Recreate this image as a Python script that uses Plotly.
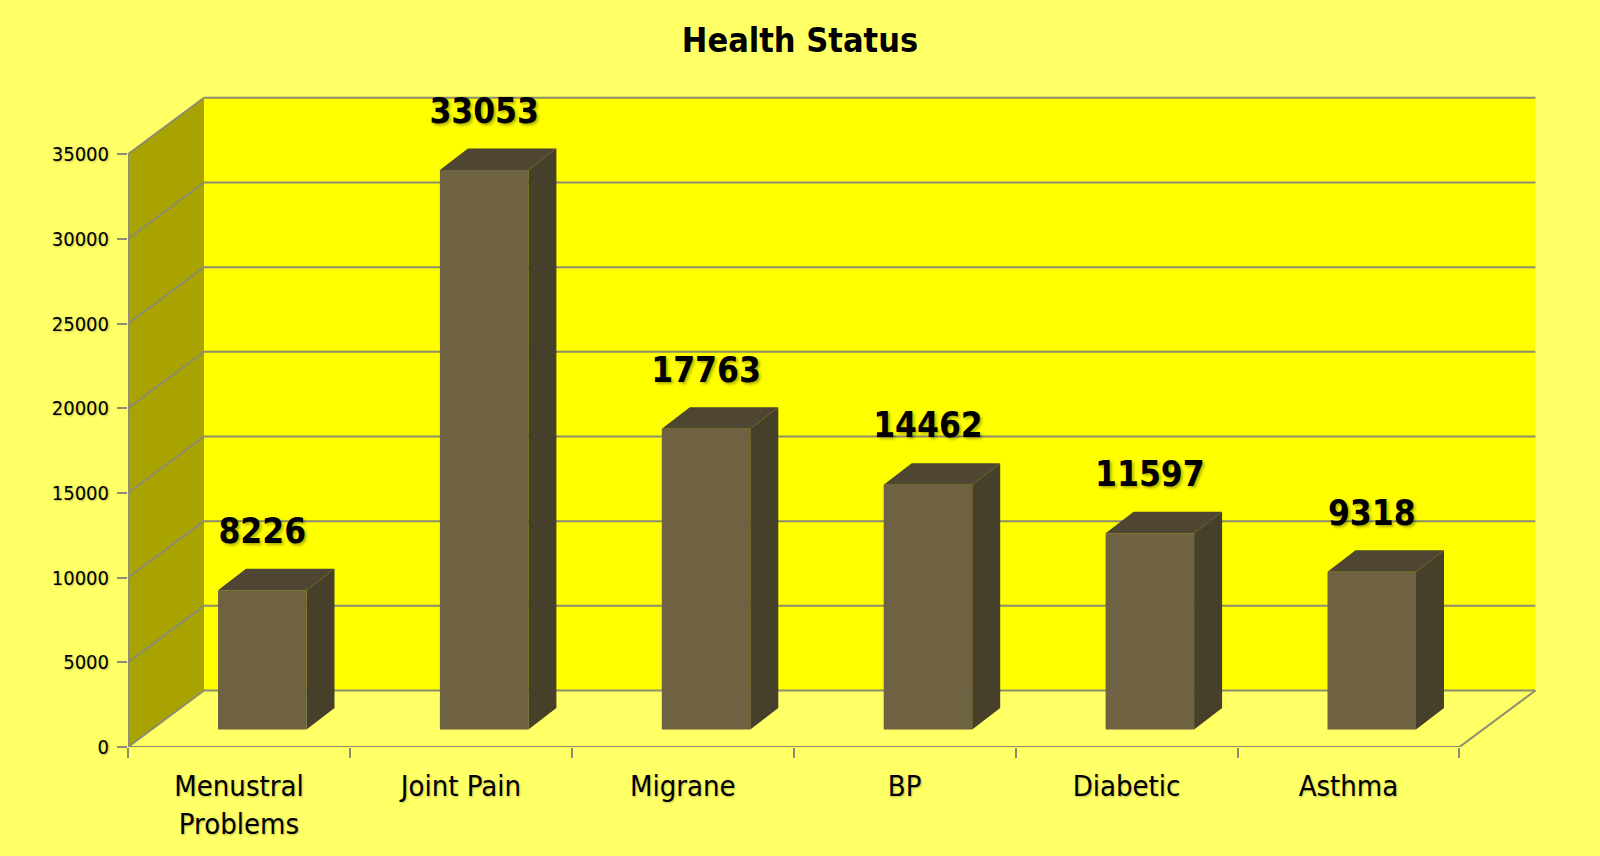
import plotly.graph_objects as go

# Chart data
categories = ["Menustral<br>Problems", "Joint Pain", "Migrane", "BP", "Diabetic", "Asthma"]
cases = [8226, 33053, 17763, 14462, 11597, 9318]
y_ticks = [0, 5000, 10000, 15000, 20000, 25000, 30000, 35000]

# Page and plot-area geometry (pixels)
W, H = 1600, 856
ML, MR, MT, MB = 128, 60, 70, 109
PX_PER_CAT = 221.9
PX_PER_UNIT = 84.67 / 5000
X_MAX = (W - ML - MR) / PX_PER_CAT
Y_MAX = (H - MT - MB) / PX_PER_UNIT


def dx(px):
    return px / PX_PER_CAT


def dy(px):
    return px / PX_PER_UNIT


# Fake 3D: wall depth, bar plane and bar depth
DX, DY = dx(76), dy(56.5)
BX, BY = dx(23.3), dy(17.4)
SX, SY = dx(28), dy(21.5)
BAR_W = dx(88.5)
LABEL_LIFT = dy(56)

n = len(categories)
top_val = y_ticks[-1]

PAPER = "#ffff66"
BACK = "#ffff00"
SIDE_WALL = "#a8a300"
GRID = "#8c8c6e"
FRONT = "#6e6242"
SIDE = "#463f2a"
TOP = "#4e4632"
FONT = "DejaVu Sans Condensed, DejaVu Sans, sans-serif"

shapes = []
# back wall
shapes.append(dict(type="rect", xref="x", yref="y", x0=DX, x1=n + DX, y0=DY, y1=top_val + DY,
                   fillcolor=BACK, line_width=0, layer="below"))
# left wall
shapes.append(dict(type="path", xref="x", yref="y",
                   path=f"M 0,0 L 0,{top_val} L {DX},{top_val + DY} L {DX},{DY} Z",
                   fillcolor=SIDE_WALL, line_width=0, layer="below"))
# gridlines on back wall and left wall
for v in y_ticks:
    shapes.append(dict(type="line", xref="x", yref="y", x0=DX, x1=n + DX, y0=v + DY, y1=v + DY,
                       line=dict(color=GRID, width=2), layer="below"))
    shapes.append(dict(type="line", xref="x", yref="y", x0=0, x1=DX, y0=v, y1=v + DY,
                       line=dict(color=GRID, width=2), layer="below"))
# floor right edge, front axis lines
shapes.append(dict(type="line", xref="x", yref="y", x0=n, x1=n + DX, y0=0, y1=DY,
                   line=dict(color=GRID, width=2), layer="below"))
shapes.append(dict(type="line", xref="x", yref="y", x0=0, x1=n, y0=0, y1=0,
                   line=dict(color=GRID, width=2), layer="below"))
shapes.append(dict(type="line", xref="x", yref="y", x0=0, x1=0, y0=0, y1=top_val,
                   line=dict(color=GRID, width=2), layer="below"))

centers = [i + 0.5 + BX for i in range(n)]

fig = go.Figure()

# front faces
fig.add_trace(go.Bar(x=centers, y=cases, base=BY, width=BAR_W,
                     marker=dict(color=FRONT, line_width=0), hoverinfo="skip"))

# top and side faces
top_x, top_y, side_x, side_y = [], [], [], []
for c, v in zip(centers, cases):
    x0, x1 = c - BAR_W / 2, c + BAR_W / 2
    t = BY + v
    top_x += [x0, x1, x1 + SX, x0 + SX, x0, None]
    top_y += [t, t, t + SY, t + SY, t, None]
    side_x += [x1, x1, x1 + SX, x1 + SX, x1, None]
    side_y += [BY, t, t + SY, BY + SY, BY, None]

fig.add_trace(go.Scatter(x=top_x, y=top_y, fill="toself", fillcolor=TOP, mode="lines",
                         line=dict(width=0, color=TOP), hoverinfo="skip"))
fig.add_trace(go.Scatter(x=side_x, y=side_y, fill="toself", fillcolor=SIDE, mode="lines",
                         line=dict(width=0, color=SIDE), hoverinfo="skip"))

# value labels
fig.add_trace(go.Scatter(
    x=centers, y=[BY + v + LABEL_LIFT for v in cases], mode="text",
    text=[str(v) for v in cases], textposition="middle center",
    textfont=dict(family=FONT, size=35, color="black", weight="bold",
                  shadow="2px 2px 3px rgba(0,0,0,0.3)"),
    hoverinfo="skip", cliponaxis=False))

fig.update_layout(
    width=W, height=H,
    paper_bgcolor=PAPER, plot_bgcolor=PAPER,
    margin=dict(l=ML, r=MR, t=MT, b=MB),
    showlegend=False,
    title=dict(text="Health Status", x=0.5, xref="container", xanchor="center",
               y=1 - 40 / H, yref="container", yanchor="middle",
               font=dict(family=FONT, size=34, color="black", weight="bold")),
    shapes=shapes,
)
fig.update_xaxes(range=[0, X_MAX], tickvals=[i + 0.5 for i in range(n)], ticktext=categories,
                 ticks="", showgrid=False, zeroline=False, showline=False, ticklabelstandoff=19,
                 tickfont=dict(family=FONT, size=29, color="black",
                               shadow="1px 1px 2px rgba(0,0,0,0.25)"),
                 minor=dict(tickmode="array", tickvals=list(range(n + 1)), ticks="outside",
                            ticklen=10, tickcolor=GRID, tickwidth=2, showgrid=False))
fig.update_yaxes(range=[0, Y_MAX], tickvals=y_ticks, ticktext=[str(v) for v in y_ticks],
                 ticks="outside", ticklen=10, ticklabelstandoff=4,
                 tickcolor=GRID, tickwidth=2, showgrid=False, zeroline=False, showline=False,
                 tickfont=dict(family=FONT, size=20, color="black",
                               shadow="1px 1px 2px rgba(0,0,0,0.25)"))

fig.write_html("out.html", config={"displayModeBar": False},
               post_script="document.body.style.margin='0px';")
